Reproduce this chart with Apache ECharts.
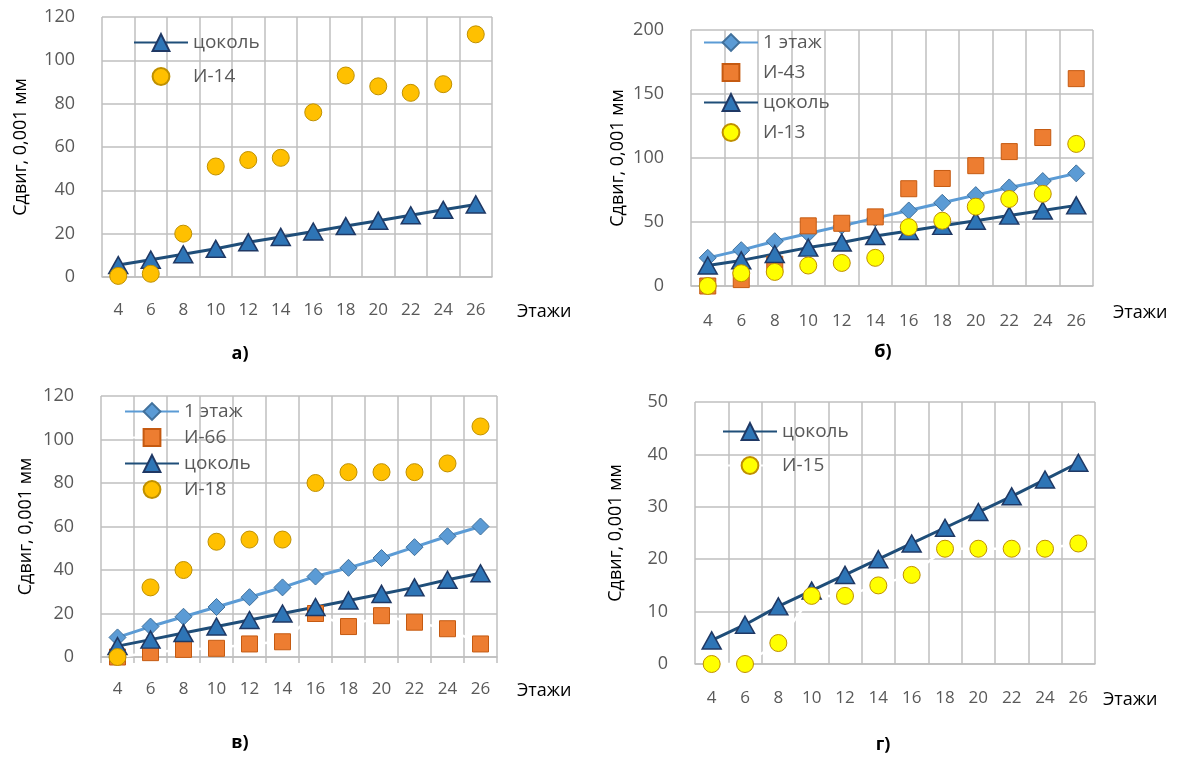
<!DOCTYPE html>
<html>
<head>
<meta charset="utf-8">
<script src="https://cdn.jsdelivr.net/npm/echarts@6/dist/echarts.min.js"></script>
<style>
html,body{margin:0;padding:0;background:#fff;}
#chart{width:1184px;height:758px;}
</style>
</head>
<body>
<div id="chart"></div>
<script>
// ---- data ----
const floors = ['4','6','8','10','12','14','16','18','20','22','24','26'];

// а)
const aCokol = [5.5, 8, 10.5, 13, 16, 18.5, 21, 23.5, 26, 28.5, 31, 33.5];
const aI14   = [0.5, 1.5, 20, 51, 54, 55, 76, 93, 88, 85, 89, 112];

// б)
const bFloor1 = [22, 28, 35, 41, 47, 53, 59, 65, 71, 77, 82, 88];
const bI43    = [0, 5, 17, 47, 49, 54, 76, 84, 94, 105, 116, 162];
const bCokol  = [16, 20, 25, 30, 34, 39, 43, 47, 51, 55, 59, 63];
const bI13    = [0, 10, 11, 16, 18, 22, 46, 51, 62, 68, 72, 111];

// в)
const vFloor1 = [9, 14, 18.5, 23, 27.5, 32, 37, 41, 45.5, 50.5, 55.5, 60];
const vI66    = [0, 2, 3.5, 4, 6, 7, 20, 14, 19, 16, 13, 6];
const vCokol  = [5, 8, 11, 14, 17, 20, 23, 26, 29, 32, 35.5, 38.5];
const vI18    = [0, 32, 40, 53, 54, 54, 80, 85, 85, 85, 89, 106];

// г)
const gCokol = [4.5, 7.5, 11, 14, 17, 20, 23, 26, 29, 32, 35.2, 38.4];
const gI15   = [0, 0, 4, 13, 13, 15, 17, 22, 22, 22, 22, 23];

// axis ranges [min, max, interval]
const yA = [0, 120, 20];
const yB = [0, 200, 50];
const yV = [0, 120, 20];
const yG = [0, 50, 10];

const yName = 'Сдвиг, 0,001 мм';
const xName = 'Этажи';
const panelNames = ['а)', 'б)', 'в)', 'г)'];

// ---- styles ----
const FONT = 'Open Sans';
const GRIDC = '#BFBFBF';
const LBL = '#595959';

function cokol(name, data, idx) {
  return { name: name, type: 'line', xAxisIndex: idx, yAxisIndex: idx, data: data,
    symbol: 'triangle', symbolSize: [19, 17],
    lineStyle: { color: '#1F4E79', width: 3 },
    itemStyle: { color: '#2E75B6', borderColor: '#1F3864', borderWidth: 1.5 } };
}
function floor1(name, data, idx) {
  return { name: name, type: 'line', xAxisIndex: idx, yAxisIndex: idx, data: data,
    symbol: 'diamond', symbolSize: 17,
    lineStyle: { color: '#5B9BD5', width: 3 },
    itemStyle: { color: '#5B9BD5', borderColor: '#41719C', borderWidth: 1 } };
}
function dots(name, data, idx, symbol, fill, border, whiteLine) {
  return { name: name, type: 'line', xAxisIndex: idx, yAxisIndex: idx, data: data,
    symbol: symbol, symbolSize: symbol === 'rect' ? 16 : 17, showSymbol: true,
    lineStyle: whiteLine ? { color: '#FFFFFF', width: 2.5 } : { color: '#FFFFFF', width: 1, opacity: 0 },
    itemStyle: { color: fill, borderColor: border, borderWidth: 1 } };
}

const grids = [
  { left: 102, top: 17, width: 390, height: 260 },
  { left: 691, top: 30, width: 402, height: 256 },
  { left: 101, top: 396, width: 396, height: 261 },
  { left: 695, top: 402, width: 400, height: 262 }
];
const yRanges = [yA, yB, yV, yG];
const yGaps = [72, 64, 66, 70];
const xMargins = [25, 27, 24, 26];

const xAxes = grids.map((g, i) => ({
  type: 'category', gridIndex: i, data: floors, boundaryGap: true,
  axisLine: { show: true, lineStyle: { color: GRIDC, width: 1.5 } },
  axisTick: { show: i === 2, length: 6, lineStyle: { color: GRIDC, width: 1.5 } },
  splitLine: { show: true, lineStyle: { color: GRIDC, width: 1.5 } },
  axisLabel: { color: LBL, fontSize: 17, fontFamily: FONT, margin: xMargins[i], interval: 0 }
}));
const yAxes = grids.map((g, i) => ({
  type: 'value', gridIndex: i, min: yRanges[i][0], max: yRanges[i][1], interval: yRanges[i][2],
  name: yName, nameLocation: 'middle', nameGap: yGaps[i],
  nameTextStyle: { color: '#000', fontSize: 18, fontFamily: FONT },
  axisLine: { show: false }, axisTick: { show: false },
  splitLine: { show: true, lineStyle: { color: GRIDC, width: 1.5 } },
  axisLabel: { color: LBL, fontSize: 18, fontFamily: FONT, margin: 27 }
}));

const series = [
  cokol('цоколь', aCokol, 0),
  dots('И-14', aI14, 0, 'circle', '#FFC000', '#BF9000', false),

  floor1('1 этаж', bFloor1, 1),
  dots('И-43', bI43, 1, 'rect', '#ED7D31', '#C55A11', false),
  cokol('цоколь', bCokol, 1),
  dots('И-13', bI13, 1, 'circle', '#FFFF00', '#BF9000', false),

  floor1('1 этаж', vFloor1, 2),
  dots('И-66', vI66, 2, 'rect', '#ED7D31', '#C55A11', true),
  cokol('цоколь', vCokol, 2),
  dots('И-18', vI18, 2, 'circle', '#FFC000', '#BF9000', false),

  cokol('цоколь', gCokol, 3),
  dots('И-15', gI15, 3, 'circle', '#FFFF00', '#BF9000', true)
];

function legend(left, top, gap, names) {
  return { left: left, top: top, orient: 'vertical', itemGap: gap, padding: 0,
    itemWidth: 54, itemHeight: 21,
    data: names,
    textStyle: { color: LBL, fontSize: 19, fontFamily: FONT, lineHeight: 21 },
    selectedMode: false };
}

const panelSeriesNames = [
  ['цоколь', 'И-14'],
  ['1 этаж', 'И-43', 'цоколь', 'И-13'],
  ['1 этаж', 'И-66', 'цоколь', 'И-18'],
  ['цоколь', 'И-15']
];

const chart = echarts.init(document.getElementById('chart'), null, { renderer: 'canvas' });

const graphics = [];
const panelLabelPos = [[240, 354], [883, 352], [240, 743], [883, 745]];
const xNamePos = [[517, 312], [1113, 313], [517, 691], [1103, 700]];
panelNames.forEach((t, i) => {
  graphics.push({ type: 'text', x: panelLabelPos[i][0], y: panelLabelPos[i][1],
    style: { text: t, fill: '#000', font: 'bold 18px "' + FONT + '"', textAlign: 'center', textVerticalAlign: 'middle' } });
  graphics.push({ type: 'text', x: xNamePos[i][0], y: xNamePos[i][1],
    style: { text: xName, fill: '#000', font: '18px "' + FONT + '"', textAlign: 'left', textVerticalAlign: 'middle' } });
});

chart.setOption({
  animation: false,
  backgroundColor: '#fff',
  grid: grids,
  xAxis: xAxes,
  yAxis: yAxes,
  legend: [
    legend(133, 32, 13, panelSeriesNames[0]),
    legend(703, 32, 9, panelSeriesNames[1]),
    legend(124, 401, 5, panelSeriesNames[2]),
    legend(722, 421, 13, panelSeriesNames[3])
  ],
  series: series,
  graphic: graphics
});
</script>
</body>
</html>
